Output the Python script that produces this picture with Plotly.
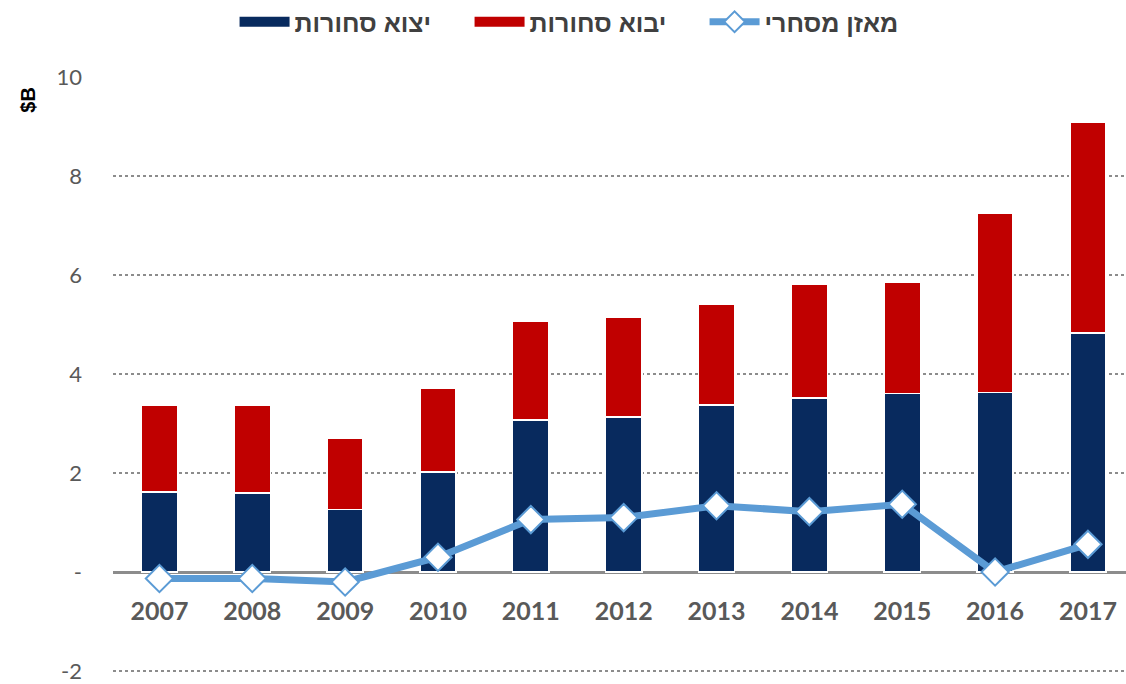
import plotly.graph_objects as go

years = ["2007", "2008", "2009", "2010", "2011", "2012", "2013", "2014", "2015", "2016", "2017"]
exports = [1.62, 1.60, 1.26, 2.02, 3.07, 3.13, 3.37, 3.52, 3.61, 3.63, 4.83]
imports = [1.75, 1.77, 1.44, 1.69, 2.00, 2.02, 2.03, 2.29, 2.24, 3.62, 4.25]
balance = [-0.13, -0.13, -0.20, 0.30, 1.06, 1.10, 1.34, 1.22, 1.37, 0.00, 0.56]

y_ticks = [-2, 0, 2, 4, 6, 8, 10]
y_tick_text = ["-2", "-", "2", "4", "6", "8", "10"]

name_exp = "יצוא סחורות"
name_imp = "יבוא סחורות"
name_bal = "מאזן מסחרי"

C_EXP = "#082A5E"
C_IMP = "#C00000"
C_BAL = "#5B9BD5"

Y_MIN, Y_MAX = -2.1, 10

fig = go.Figure()
fig.add_trace(go.Bar(x=years, y=exports, name=name_exp, legendgroup="exp", showlegend=False,
                     marker=dict(color=C_EXP, line=dict(color="white", width=1.5))))
fig.add_trace(go.Bar(x=years, y=imports, name=name_imp, legendgroup="imp", showlegend=False,
                     marker=dict(color=C_IMP, line=dict(color="white", width=1.5))))
fig.add_trace(go.Scatter(x=years, y=balance, name=name_bal, mode="lines+markers",
                         legendrank=3,
                         line=dict(color=C_BAL, width=7),
                         marker=dict(symbol="diamond", size=21, color="white",
                                     line=dict(color=C_BAL, width=2))))
# legend swatches (wide rectangles like the original)
fig.add_trace(go.Scatter(x=[None], y=[None], name=name_exp, legendgroup="exp", legendrank=1,
                         mode="lines", line=dict(color=C_EXP, width=10)))
fig.add_trace(go.Scatter(x=[None], y=[None], name=name_imp, legendgroup="imp", legendrank=2,
                         mode="lines", line=dict(color=C_IMP, width=10)))

fig.update_layout(
    width=1126, height=684,
    barmode="stack", bargap=0.61,
    plot_bgcolor="white", paper_bgcolor="white",
    margin=dict(l=113, r=0, t=77, b=8, autoexpand=False),
    legend=dict(orientation="h", xref="paper", yref="paper",
                x=0.12, y=1.0918, xanchor="left", yanchor="middle",
                font=dict(family="Liberation Sans", size=25, color="#404040", weight="bold"),
                itemwidth=50, tracegroupgap=0, entrywidth=170, entrywidthmode="pixels"),
    xaxis=dict(type="category", range=[-0.5, 10.41], anchor="free",
               position=(0 - Y_MIN) / (Y_MAX - Y_MIN),
               showgrid=False, showline=False, ticks="", ticklabelstandoff=22,
               automargin=False,
               tickfont=dict(family="Lato", size=25, color="#595959", weight="bold")),
    yaxis=dict(range=[Y_MIN, Y_MAX], tickvals=y_ticks, ticktext=y_tick_text,
               showgrid=True, gridcolor="#8C8C8C", gridwidth=1.5, griddash="dot",
               zeroline=True, zerolinecolor="#8C8C8C", zerolinewidth=2.5,
               ticklabelstandoff=30, automargin=False, ticklabeloverflow="allow",
               tickfont=dict(family="Lato", size=22, color="#595959")),
    showlegend=True,
    annotations=[dict(text="<b>$B</b>", xref="paper", yref="paper",
                      x=-0.084, y=0.962, textangle=-90, showarrow=False,
                      xanchor="center", yanchor="middle",
                      font=dict(family="Liberation Sans", size=20, color="black"))],
)

fig.write_html("out.html", config={"displayModeBar": False},
               post_script="document.body.style.margin='0';")
